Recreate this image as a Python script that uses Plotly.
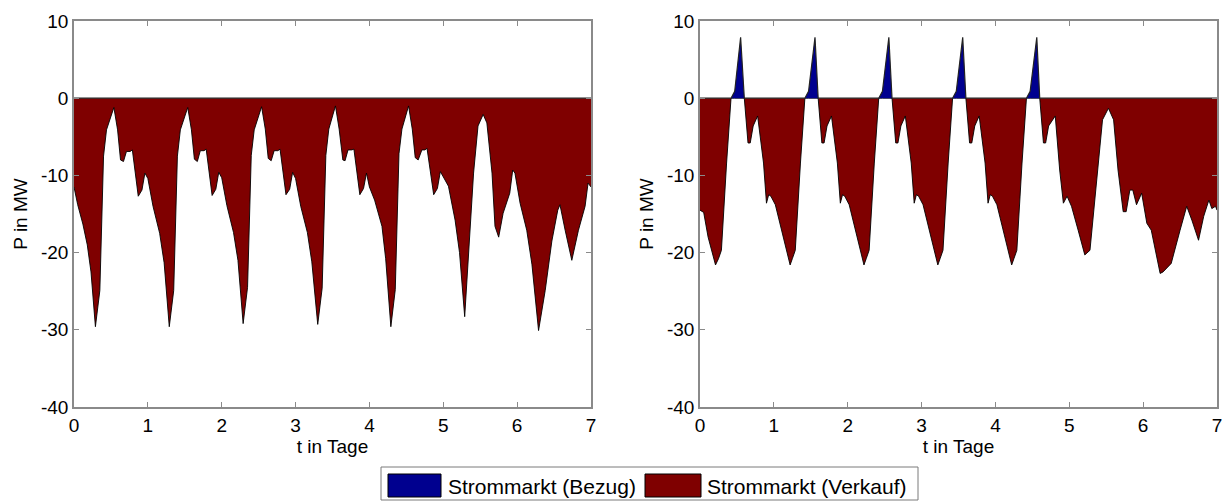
import numpy as np
import plotly.graph_objects as go

# ---------------- data ----------------
# left panel: time in days, power in MW
t_left = [
    0.00, 0.05, 0.12, 0.18, 0.23, 0.29, 0.35, 0.40, 0.44, 0.51, 0.54, 0.59, 0.63, 0.67, 0.71, 0.76, 0.79, 0.87, 0.92, 0.96,
    1.00, 1.07, 1.16, 1.22, 1.29, 1.35, 1.40, 1.44, 1.51, 1.54, 1.59, 1.63, 1.67, 1.71, 1.76, 1.79, 1.87, 1.92, 1.96,
    2.00, 2.07, 2.16, 2.22, 2.29, 2.35, 2.40, 2.44, 2.51, 2.54, 2.59, 2.63, 2.67, 2.71, 2.76, 2.79, 2.87, 2.92, 2.96,
    3.00, 3.07, 3.16, 3.22, 3.30, 3.36, 3.41, 3.45, 3.51, 3.54, 3.59, 3.64, 3.67, 3.71, 3.76, 3.79, 3.87, 3.92, 3.96,
    4.00, 4.07, 4.17, 4.22, 4.29, 4.35, 4.40, 4.44, 4.50, 4.53, 4.58, 4.62, 4.66, 4.71, 4.75, 4.78, 4.87, 4.92, 4.96,
    5.00, 5.07, 5.16, 5.22, 5.29, 5.41, 5.47, 5.54, 5.59, 5.66, 5.70, 5.75, 5.81, 5.90, 5.94, 5.97,
    6.04, 6.13, 6.20, 6.29, 6.38, 6.47, 6.55, 6.58, 6.65, 6.74, 6.83, 6.92, 6.96, 7.00,
]
p_left = [
    -11.5, -13.8, -16.3, -19.0, -22.5, -29.6, -24.9, -7.5, -4.1, -1.9, -1.2, -4.1, -8.0, -8.2, -6.9, -6.9, -6.7, -12.7, -11.9, -9.7,
    -10.4, -14.0, -17.5, -21.3, -29.6, -24.9, -7.5, -4.1, -1.9, -1.2, -4.1, -7.9, -8.2, -6.8, -6.8, -6.6, -12.6, -11.8, -9.6,
    -10.3, -13.9, -17.4, -21.0, -29.2, -24.5, -7.4, -4.1, -1.9, -1.1, -4.0, -7.8, -8.1, -6.8, -6.8, -6.6, -12.5, -11.8, -9.6,
    -10.4, -14.0, -17.4, -21.2, -29.3, -24.6, -7.4, -4.0, -1.8, -1.0, -4.0, -8.0, -8.1, -6.7, -6.7, -6.6, -12.5, -11.7, -9.7,
    -11.5, -13.2, -16.6, -20.8, -29.6, -24.8, -7.2, -4.0, -1.8, -1.0, -4.0, -7.7, -8.0, -6.7, -6.7, -6.5, -12.5, -11.7, -9.5,
    -10.2, -11.4, -15.8, -20.0, -28.3, -9.7, -3.6, -2.1, -3.2, -9.7, -16.6, -18.0, -14.9, -12.3, -9.3, -9.7,
    -13.6, -17.1, -21.5, -30.1, -24.9, -18.5, -14.5, -13.8, -17.1, -21.0, -17.1, -14.0, -11.0, -11.5,
]

# right panel: time in days, power in MW (positive = Bezug, negative = Verkauf)
t_right = [
    0.00, 0.05, 0.11, 0.16, 0.21, 0.25, 0.29, 0.36, 0.42, 0.47, 0.55, 0.60, 0.65, 0.68, 0.72, 0.78, 0.86, 0.90, 0.93, 0.96,
    1.02, 1.13, 1.17, 1.22, 1.25, 1.29, 1.36, 1.42, 1.47, 1.557, 1.60, 1.65, 1.68, 1.72, 1.78, 1.86, 1.90, 1.93, 1.96,
    2.02, 2.13, 2.17, 2.22, 2.25, 2.29, 2.36, 2.42, 2.47, 2.557, 2.60, 2.65, 2.68, 2.72, 2.78, 2.86, 2.90, 2.93, 2.96,
    3.02, 3.13, 3.17, 3.22, 3.25, 3.29, 3.36, 3.42, 3.47, 3.557, 3.60, 3.65, 3.68, 3.72, 3.78, 3.86, 3.90, 3.93, 3.96,
    4.02, 4.13, 4.17, 4.22, 4.25, 4.29, 4.36, 4.42, 4.47, 4.56, 4.60, 4.65, 4.68, 4.72, 4.81, 4.87, 4.92, 4.97,
    5.03, 5.12, 5.21, 5.28, 5.37, 5.45, 5.53, 5.60, 5.66, 5.73, 5.77, 5.82, 5.86, 5.91, 5.98,
    6.05, 6.11, 6.23, 6.27, 6.38, 6.50, 6.59, 6.66, 6.75, 6.82, 6.89, 6.93, 6.98, 7.00,
]
p_right = [
    -14.5, -14.8, -18.0, -20.0, -21.6, -20.8, -19.7, -8.4, 0.0, 0.9, 7.9, 0.0, -5.8, -5.8, -3.6, -2.3, -8.4, -13.6, -12.5, -12.7,
    -13.8, -18.0, -19.6, -21.6, -20.8, -19.7, -8.4, 0.0, 0.9, 7.9, 0.0, -5.8, -5.8, -3.6, -2.3, -8.4, -13.6, -12.5, -12.7,
    -13.8, -18.0, -19.6, -21.6, -20.8, -19.7, -8.4, 0.0, 0.9, 7.9, 0.0, -5.8, -5.8, -3.6, -2.3, -8.4, -13.6, -12.5, -12.7,
    -13.8, -18.0, -19.6, -21.6, -20.8, -19.7, -8.4, 0.0, 0.9, 7.9, 0.0, -5.8, -5.8, -3.6, -2.3, -8.4, -13.6, -12.5, -12.7,
    -13.8, -18.0, -19.6, -21.6, -20.8, -19.7, -8.4, 0.0, 0.9, 7.9, 0.0, -5.8, -5.8, -3.6, -2.3, -9.3, -13.6, -12.7,
    -14.0, -17.1, -20.3, -19.7, -10.6, -2.8, -1.3, -2.8, -9.3, -14.7, -14.7, -11.9, -11.9, -13.8, -12.3,
    -16.2, -17.1, -22.7, -22.5, -21.4, -17.1, -14.0, -15.8, -18.4, -15.3, -13.2, -14.3, -14.0, -14.5,
]

series_names = ["Strommarkt (Bezug)", "Strommarkt (Verkauf)"]
series_colors = ["#00008f", "#7f0000"]
x_ticks = [0, 1, 2, 3, 4, 5, 6, 7]
y_ticks = [-40, -30, -20, -10, 0, 10]
y_ticklabels = ["-40", "-30", "-20", "-10", "0", "10"]
x_title = "t in Tage"
y_title = "P in MW"

# ---------------- figure ----------------
W, H = 1225, 501
FONT = "Liberation Sans, Arial, sans-serif"
fig = go.Figure()

panels = [("x", "y", t_left, p_left), ("x2", "y2", t_right, p_right)]
for xa, ya, t, p in panels:
    p = np.array(p, dtype=float)
    verkauf = np.minimum(p, 0.0)
    bezug = np.maximum(p, 0.0)
    fig.add_trace(go.Scatter(x=t, y=verkauf, xaxis=xa, yaxis=ya, mode="lines",
                             fill="tozeroy", fillcolor=series_colors[1],
                             line=dict(color="black", width=0.9),
                             name=series_names[1], hoverinfo="skip"))
    fig.add_trace(go.Scatter(x=t, y=bezug, xaxis=xa, yaxis=ya, mode="lines",
                             fill="tozeroy", fillcolor=series_colors[0],
                             line=dict(color="#222222", width=1.2),
                             name=series_names[0], hoverinfo="skip"))

ydom = [1 - 407 / H, 1 - 21 / H]
axis_common = dict(showline=True, mirror="ticks", linecolor="#8a8a8a", linewidth=1.5,
                   ticks="inside", ticklen=5, tickwidth=1, tickcolor="#8a8a8a",
                   showgrid=False, zeroline=False, automargin=False,
                   tickfont=dict(family=FONT, size=19, color="black"))
xcommon = dict(axis_common, range=[0, 7], tickvals=x_ticks,
               title=dict(text=x_title, font=dict(family=FONT, size=19, color="black"), standoff=0))
ycommon = dict(axis_common, range=[-40, 10], tickvals=y_ticks, ticktext=y_ticklabels, domain=ydom,
               title=dict(text=y_title, font=dict(family=FONT, size=19, color="black"), standoff=8))

fig.update_layout(
    width=W, height=H,
    margin=dict(l=0, r=0, t=0, b=0),
    paper_bgcolor="white", plot_bgcolor="white",
    showlegend=False,
    font=dict(family=FONT, color="black"),
    xaxis=dict(xcommon, domain=[74 / W, 591 / W], anchor="y"),
    yaxis=dict(ycommon, anchor="x"),
    xaxis2=dict(xcommon, domain=[700 / W, 1217 / W], anchor="y2"),
    yaxis2=dict(ycommon, anchor="x2"),
)

# ---------------- legend box (drawn like the MATLAB legend) ----------------
def px(x):
    return x / W

def py(y):
    return 1 - y / H

shapes = [dict(type="rect", xref="paper", yref="paper", x0=px(381), x1=px(918), y0=py(500), y1=py(467),
               line=dict(color="#7a7a7a", width=1), fillcolor="white", layer="above")]
legend_items = [(388, 441, 446), (645, 701, 705)]
annotations = []
for (x0, x1, xt), name, col in zip(legend_items, series_names, series_colors):
    shapes.append(dict(type="rect", xref="paper", yref="paper", x0=px(x0), x1=px(x1), y0=py(497), y1=py(474),
                       line=dict(color="black", width=1), fillcolor=col, layer="above"))
    annotations.append(dict(xref="paper", yref="paper", x=px(xt), y=py(486), text=name, showarrow=False,
                            xanchor="left", yanchor="middle",
                            font=dict(family=FONT, size=21, color="black")))
fig.update_layout(shapes=shapes, annotations=annotations)

fig.write_html("out.html")
